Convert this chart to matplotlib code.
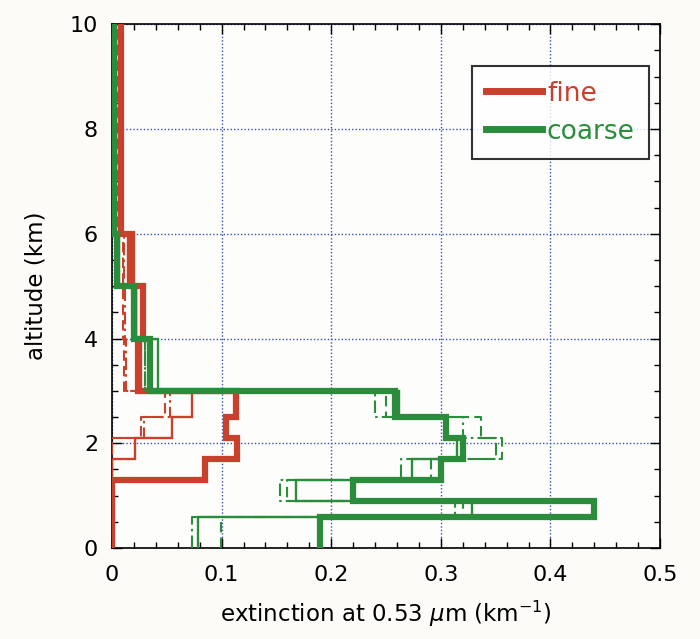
import numpy as np
import matplotlib
matplotlib.use("Agg")
import matplotlib.pyplot as plt
from matplotlib.ticker import MultipleLocator

# altitude bin edges (km)
edges = [0, 0.6, 0.9, 1.3, 1.7, 2.1, 2.5, 3.0, 4.0, 5.0, 6.0, 10.0]

# extinction per bin (km-1), fine mode
fine_main = [0.0, 0.0, 0.0, 0.085, 0.114, 0.104, 0.113, 0.024, 0.028, 0.018, 0.008]
fine_thin = [0.0, 0.0, 0.0, 0.0, 0.021, 0.055, 0.073, 0.026, 0.022, 0.015, 0.006]
fine_dashdot = [0.0, 0.0, 0.0, 0.0, 0.0, 0.029, 0.053, 0.013, 0.012, 0.011, 0.006]
fine_dashed = [0.0, 0.0, 0.0, 0.0, 0.0, 0.026, 0.048, 0.011, 0.010, 0.010, 0.005]

# coarse mode
coarse_main = [0.19, 0.44, 0.22, 0.30, 0.32, 0.305, 0.258, 0.035, 0.020, 0.005, 0.002]
coarse_thin = [0.078, 0.328, 0.168, 0.274, 0.315, 0.305, 0.262, 0.042, 0.022, 0.006, 0.002]
coarse_dashdot = [0.073, 0.313, 0.153, 0.264, 0.350, 0.320, 0.240, 0.030, 0.020, 0.004, 0.002]
coarse_dashed = [0.099, 0.320, 0.160, 0.291, 0.356, 0.337, 0.250, 0.030, 0.018, 0.004, 0.002]

ROUGE = "#c9402c"
VERT = "#2b8c3b"


def profil(vals):
    # step profile: each bin drawn as a vertical segment
    z = np.repeat(edges, 2)[1:-1]
    x = np.repeat(vals, 2)
    return x, z


fig = plt.figure(figsize=(7, 6.39), dpi=100, facecolor="#fcfbf7")
ax = fig.add_axes([0.16, 0.1424, 0.783, 0.8196])
ax.set_facecolor("#fdfdfb")

styles = [
    ("dashed", (0, (5, 2.5)), 1.5),
    ("dashdot", (0, (6, 2, 1.2, 2)), 1.5),
    ("thin", "-", 1.7),
    ("main", "-", 4.5),
]
fine = {"main": fine_main, "thin": fine_thin, "dashdot": fine_dashdot, "dashed": fine_dashed}
coarse = {"main": coarse_main, "thin": coarse_thin, "dashdot": coarse_dashdot, "dashed": coarse_dashed}

for nom, ls, lw in styles:
    x, z = profil(fine[nom])
    ax.plot(x, z, color=ROUGE, ls=ls, lw=lw, solid_joinstyle="miter", zorder=3)
for nom, ls, lw in styles:
    x, z = profil(coarse[nom])
    ax.plot(x, z, color=VERT, ls=ls, lw=lw, solid_joinstyle="miter", zorder=3)

# legend lines
l1, = ax.plot([], [], color=ROUGE, lw=5)
l2, = ax.plot([], [], color=VERT, lw=5)
leg = ax.legend([l1, l2], ["fine", "coarse"], loc="upper right",
                bbox_to_anchor=(0.99, 0.93), fontsize=19, frameon=True,
                fancybox=False, edgecolor="black", handlelength=2.1,
                handletextpad=0.2, borderpad=0.55, labelspacing=0.45,
                borderaxespad=0.2)
leg.get_frame().set_linewidth(1.5)
for t, c in zip(leg.get_texts(), [ROUGE, VERT]):
    t.set_color(c)

ax.set_xlim(0, 0.5)
ax.set_ylim(0, 10)
ax.xaxis.set_minor_locator(MultipleLocator(0.02))
ax.yaxis.set_major_locator(MultipleLocator(2))
ax.yaxis.set_minor_locator(MultipleLocator(0.5))
ax.set_xticks([0, 0.1, 0.2, 0.3, 0.4, 0.5])
ax.set_xticklabels(["0", "0.1", "0.2", "0.3", "0.4", "0.5"])
ax.tick_params(which="both", direction="in", top=True, right=True, labelsize=16)
ax.tick_params(axis="x", pad=12)
ax.tick_params(axis="y", pad=10)
ax.tick_params(which="major", length=7, width=1)
ax.tick_params(which="minor", length=4, width=1)
ax.grid(True, which="major", color="#3a4fb5", ls=(0, (1, 1.5)), lw=1.0, zorder=1)
for s in ax.spines.values():
    s.set_linewidth(1.2)

ax.set_xlabel(r"extinction at 0.53 $\mu$m (km$^{-1}$)", fontsize=16.5, labelpad=10)
ax.set_ylabel("altitude (km)", fontsize=16.5, labelpad=16)

fig.savefig("out.png", dpi=100, facecolor=fig.get_facecolor())
plt.close(fig)
